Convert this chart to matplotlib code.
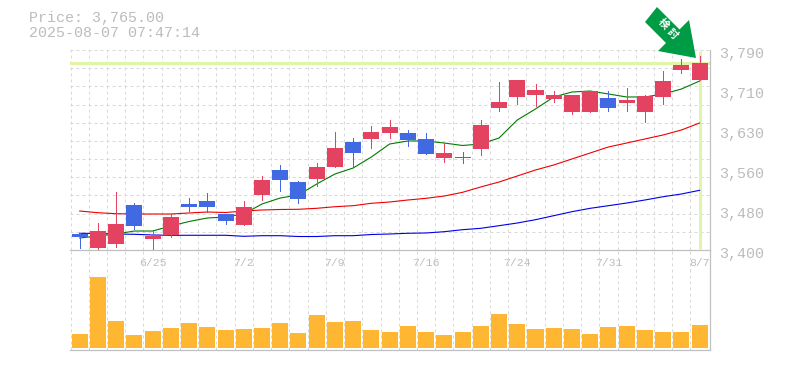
import numpy as np
import matplotlib
matplotlib.use("Agg")
import matplotlib.pyplot as plt
from matplotlib.patches import Polygon
from matplotlib.transforms import ScaledTranslation

# daily prices
open_ = [3432, 3404, 3412, 3487.8, 3421, 3429, 3489.7, 3495.6, 3470, 3448.8, 3507.3, 3556, 3532.6, 3538.5, 3561.9, 3610.6, 3616.5, 3628, 3628, 3616.5, 3579, 3581, 3597, 3677, 3698, 3702, 3694.5, 3669, 3669, 3696, 3686.6, 3669, 3698, 3751, 3731.5]
close = [3425, 3437, 3450.7, 3446.8, 3427, 3464, 3483.9, 3483.9, 3456.5, 3483.9, 3536.5, 3536.5, 3499.5, 3561.9, 3598.9, 3589, 3630, 3639.9, 3614.5, 3587, 3589, 3579, 3643.8, 3688.6, 3731.5, 3712, 3702, 3702, 3710, 3677, 3692.5, 3700, 3729.5, 3760.8, 3765]
high = [3433, 3452.6, 3513, 3491.6, 3437, 3470, 3501.4, 3511, 3470, 3495.6, 3544.3, 3565.8, 3534.6, 3569.6, 3630, 3618.4, 3641.8, 3653.5, 3634, 3628, 3608.6, 3591, 3653.5, 3727.6, 3731.5, 3723.7, 3710, 3702, 3710, 3710, 3716, 3702, 3749, 3772.5, 3778.3]
low = [3404, 3402, 3406, 3441, 3400, 3425, 3476, 3474, 3450.7, 3448.8, 3497.5, 3515, 3491.6, 3524.8, 3561.9, 3563.8, 3598.9, 3618.4, 3602.8, 3587, 3571.6, 3569.6, 3585, 3671, 3684.7, 3680.8, 3688.6, 3665, 3669, 3671, 3671, 3649.6, 3684.7, 3745, 3731.5]
volume = [14, 71, 27, 13, 17, 20, 25, 21, 18, 19, 20, 25, 15, 33, 26, 27, 18, 16, 22, 16, 13, 16, 22, 34, 24, 19, 20, 19, 14, 21, 22, 18, 16, 16, 23]

ma_short = [3423.4, 3427.3, 3431.2, 3437, 3437, 3446.8, 3455.6, 3462.4, 3464.4, 3470.2, 3489.7, 3501.4, 3507.3, 3528.7, 3548.2, 3559.9, 3581.4, 3606.7, 3612.6, 3612.6, 3608.6, 3603.8, 3606.7, 3618.4, 3653.5, 3675, 3698.4, 3708.1, 3710, 3704.2, 3698.4, 3698.4, 3704.2, 3713.9, 3729.5]
ma_mid = [3476, 3472.7, 3470.8, 3470.2, 3470.2, 3470.2, 3472.2, 3474.1, 3473.1, 3476, 3478, 3479, 3479.4, 3481.3, 3484.4, 3486.4, 3491.1, 3493.6, 3497.5, 3500.8, 3505.3, 3512.5, 3522.9, 3532.6, 3544.3, 3556, 3565.8, 3577.5, 3589.2, 3600.9, 3608.6, 3616.5, 3624.3, 3634, 3647.7]
ma_long = [3432.6, 3432.2, 3431.2, 3430.6, 3429.3, 3428.7, 3428.7, 3428.7, 3428.7, 3426.7, 3427.9, 3427.9, 3426.3, 3426.3, 3427.9, 3427.9, 3430.2, 3431.2, 3432.6, 3433.2, 3435.7, 3439.6, 3442.3, 3447.4, 3452.6, 3459.1, 3466.9, 3474.7, 3481.3, 3486.4, 3491.6, 3497.5, 3503.9, 3509.2, 3516.4]

date_pos = [4, 9, 14, 19, 24, 29, 34]
date_labels = ["6/25", "7/2", "7/9", "7/16", "7/24", "7/31", "8/7"]
price_ticks = [3400, 3478, 3556, 3634, 3712, 3790]
price_labels = ["3,400", "3,480", "3,560", "3,630", "3,710", "3,790"]
last_price = 3765

UP = "#e34361"
DOWN = "#4169e1"
GRID = "#d8d8d8"
AXIS = "#c0c0c0"
TEXT = "#bcbcbc"
HILITE = "#e0f5a8"
MONO = "Liberation Mono"

W, H = 785, 370
fig = plt.figure(figsize=(W / 100, H / 100), dpi=100)
ax = fig.add_axes([70 / W, 120 / H, 640 / W, 200 / H])
vol = fig.add_axes([70 / W, 20 / H, 640 / W, 100 / H], sharex=ax)

x = np.arange(len(close))
o, c, h, l = map(np.array, (open_, close, high, low))
colors = [UP if b >= a else DOWN for a, b in zip(o, c)]

grid_x = np.arange(-0.5, 34, 1)
grid_style = dict(color=GRID, lw=0.72, dashes=(3, 3), zorder=0)
for a in (ax, vol):
    for gx in grid_x:
        a.axvline(gx, **grid_style)
for gy in np.linspace(3400, 3790, 12):
    ax.axhline(gy, clip_on=False, **grid_style)

ax.axhline(last_price, color=HILITE, lw=2.2, zorder=1)
ax.plot([x[-1], x[-1]], [3402, 3788], color=HILITE, lw=2.2, solid_capstyle="butt", zorder=1)

line_style = dict(lw=0.8, zorder=2)
ax.plot(x, ma_long, color="#0000e6", **line_style)
ax.plot(x, ma_mid, color="#ee0000", **line_style)
ax.plot(x, ma_short, color="#007a00", **line_style)

ax.vlines(x, l, h, colors=colors, lw=0.72, antialiased=False, zorder=3)
ax.bar(x, np.maximum(np.abs(c - o), 1.5), bottom=np.minimum(o, c), width=0.88,
       color=colors, linewidth=0, zorder=4)

vol.bar(x, volume, width=0.88, color="#ffb733", linewidth=0, zorder=2)

ax.set_xlim(-0.53, 34.57)
ax.set_ylim(3400, 3790)
vol.set_ylim(-2, 98)

for a in (ax, vol):
    for side in ("top", "left"):
        a.spines[side].set_visible(False)
    for side in ("right", "bottom"):
        a.spines[side].set_color(AXIS)
        a.spines[side].set_linewidth(0.9)

ax.yaxis.tick_right()
ax.set_yticks(price_ticks, price_labels)
ax.tick_params(axis="y", length=0, pad=6.5, labelsize=10.8, labelcolor=TEXT)
shift = ScaledTranslation(0, -2.8 / 72 * 0.72, fig.dpi_scale_trans)
for t in ax.get_yticklabels():
    t.set_fontfamily(MONO)
    t.set_transform(t.get_transform() + shift)

ax.set_xticks(date_pos, date_labels)
ax.tick_params(axis="x", length=0, pad=5.5, labelsize=8.2, labelcolor=TEXT, labelbottom=True)
for t in ax.get_xticklabels():
    t.set_fontfamily(MONO)
vol.tick_params(axis="both", length=0, labelbottom=False, labelleft=False)
vol.set_yticks([])
vol.patch.set_alpha(0)

fig.text(29 / W, 1 - 18 / H, "Price: 3,765.00", family=MONO, fontsize=10.8, color=TEXT, va="center")
fig.text(29 / W, 1 - 33 / H, "2025-08-07 07:47:14", family=MONO, fontsize=10.8, color=TEXT, va="center")

# arrow badge on top of everything, laid out in image pixels
over = fig.add_axes([0, 0, 1, 1])
over.set_xlim(0, W)
over.set_ylim(H, 0)
over.axis("off")
over.add_patch(Polygon([(657, 7), (679.5, 29.5), (689, 20), (696, 58), (658, 51), (666, 43), (645, 22)],
                       closed=True, facecolor="#009b45", edgecolor="none"))
for ch, cx, cy in (("検", 663, 24), ("討", 672, 34)):
    over.text(cx, cy, ch, rotation=-45, rotation_mode="anchor", ha="center", va="center",
              color="white", fontsize=7.5, fontweight="bold", family="Noto Sans CJK JP")

fig.savefig("out.png", dpi=100)
